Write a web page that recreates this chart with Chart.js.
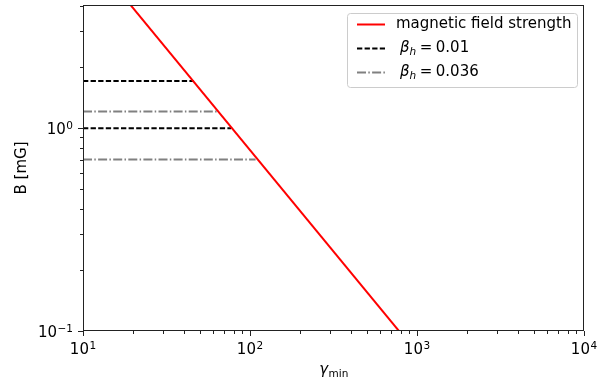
<!DOCTYPE html>
<html>
<head>
<meta charset="utf-8">
<script src="https://cdn.jsdelivr.net/npm/chart.js@4.4.0/dist/chart.umd.min.js"></script>
<style>
  html, body { margin: 0; padding: 0; background: #fff; }
  #wrap { width: 610px; height: 381px; }
</style>
</head>
<body>
<div id="wrap"><canvas id="fieldChart" width="610" height="381"></canvas></div>
<script>
// gamma_min range and field strength along the red line
const fieldGamma = [10, 1000];
const fieldB = [7.8, 0.078];

// horizontal reference levels (B in mG) and where each one stops (gamma_min)
const betaLowLevels = [1.71, 1.0];      // beta_h = 0.01
const betaLowEnds = [46, 77];
const betaHighLevels = [1.21, 0.70];    // beta_h = 0.036
const betaHighEnds = [64, 108];

// tick labels are 10^exponent
const xMajorTicks = [10, 100, 1000, 10000];
const xTickExps = ['1', '2', '3', '4'];
const yMajorTicks = [0.1, 1];
const yTickExps = ['\u22121', '0'];
const xMinorTicks = [20, 30, 40, 50, 60, 70, 80, 90, 200, 300, 400, 500, 600, 700, 800, 900,
  2000, 3000, 4000, 5000, 6000, 7000, 8000, 9000];
const yMinorTicks = [0.2, 0.3, 0.4, 0.5, 0.6, 0.7, 0.8, 0.9, 2, 3, 4];

const legendLabels = ['magnetic field strength', '0.01', '0.036'];

const FONT = '"DejaVu Sans", sans-serif';

function levelDataset(level, end, color, dash) {
    return {
        data: [{ x: 10, y: level }, { x: end, y: level }],
        borderColor: color,
        borderWidth: 2,
        borderDash: dash,
        pointRadius: 0,
        fill: false
    };
}

const datasets = [{
    label: legendLabels[0],
    data: fieldGamma.map((g, i) => ({ x: g, y: fieldB[i] })),
    borderColor: '#ff0000',
    borderWidth: 2,
    pointRadius: 0,
    fill: false
}];
betaLowLevels.forEach((lv, i) => datasets.push(levelDataset(lv, betaLowEnds[i], '#000000', [5.3, 2.3])));
betaHighLevels.forEach((lv, i) => datasets.push(levelDataset(lv, betaHighEnds[i], '#808080', [9, 2.3, 1.5, 2.3])));

function powerLabel(ctx, exp, x, baseY, align) {
    ctx.font = '15px ' + FONT;
    const wb = ctx.measureText('10').width;
    ctx.font = '10.5px ' + FONT;
    const we = ctx.measureText(exp).width;
    const total = wb + 0.5 + we;
    let start = align === 'center' ? x - total / 2 : x - total;
    ctx.font = '15px ' + FONT;
    ctx.fillText('10', start, baseY);
    ctx.font = '10.5px ' + FONT;
    ctx.fillText(exp, start + wb + 0.5, baseY - 5);
}

const extras = {
    id: 'extras',
    afterDraw(chart) {
        const ctx = chart.ctx;
        const a = chart.chartArea;
        const xs = chart.scales.x, ys = chart.scales.y;
        ctx.save();
        // frame
        ctx.strokeStyle = '#222';
        ctx.lineWidth = 1;
        ctx.strokeRect(Math.round(a.left) + 0.5, Math.round(a.top) + 0.5,
            Math.round(a.right - a.left) - 1, Math.round(a.bottom - a.top) - 1);
        // minor ticks
        ctx.beginPath();
        xMinorTicks.forEach(v => {
            const px = Math.round(xs.getPixelForValue(v)) + 0.5;
            ctx.moveTo(px, a.bottom);
            ctx.lineTo(px, a.bottom + 3);
        });
        yMinorTicks.forEach(v => {
            const py = Math.round(ys.getPixelForValue(v)) + 0.5;
            ctx.moveTo(a.left, py);
            ctx.lineTo(a.left - 3, py);
        });
        ctx.stroke();

        // major tick labels
        ctx.fillStyle = '#000';
        ctx.textBaseline = 'alphabetic';
        xMajorTicks.forEach((v, i) => {
            powerLabel(ctx, xTickExps[i], xs.getPixelForValue(v), a.bottom + 22.5, 'center');
        });
        yMajorTicks.forEach((v, i) => {
            powerLabel(ctx, yTickExps[i], a.left - 10, ys.getPixelForValue(v) + 6, 'right');
        });

        // x axis title: gamma_min
        const cx = (a.left + a.right) / 2;
        ctx.font = 'italic 15px ' + FONT;
        const wg = ctx.measureText('\u03B3').width;
        ctx.font = '10.5px ' + FONT;
        const wm = ctx.measureText('min').width;
        let tx = cx - (wg + wm) / 2;
        ctx.font = 'italic 15px ' + FONT;
        ctx.fillText('\u03B3', tx, 374);
        ctx.font = '10.5px ' + FONT;
        ctx.fillText('min', tx + wg + 0.5, 377);

        // legend
        const lx = 347, ly = 13, lw = 230, lh = 74;
        ctx.beginPath();
        ctx.roundRect(lx + 0.5, ly + 0.5, lw, lh, 3);
        ctx.fillStyle = 'rgba(255,255,255,0.8)';
        ctx.fill();
        ctx.strokeStyle = '#cccccc';
        ctx.stroke();

        const rows = [24.5, 48.5, 72.5];
        const styles = [
            { c: '#ff0000', d: [] },
            { c: '#000000', d: [5.3, 2.3] },
            { c: '#808080', d: [9, 2.3, 1.5, 2.3] }
        ];
        rows.forEach((ry, i) => {
            ctx.beginPath();
            ctx.setLineDash(styles[i].d);
            ctx.strokeStyle = styles[i].c;
            ctx.lineWidth = 2;
            ctx.moveTo(357, ry);
            ctx.lineTo(385, ry);
            ctx.stroke();
        });
        ctx.setLineDash([]);
        ctx.fillStyle = '#000';
        ctx.textBaseline = 'middle';
        ctx.font = '15px ' + FONT;
        ctx.fillText(legendLabels[0], 396, rows[0]);
        [1, 2].forEach(i => {
            let x = 400;
            const y = rows[i];
            ctx.font = 'italic 15px ' + FONT;
            ctx.fillText('\u03B2', x, y);
            x += ctx.measureText('\u03B2').width;
            ctx.font = 'italic 10.5px ' + FONT;
            ctx.fillText('h', x, y + 4);
            x += ctx.measureText('h').width + 3.5;
            ctx.font = '15px ' + FONT;
            ctx.fillText('=', x, y);
            x += ctx.measureText('=').width + 3.5;
            ctx.fillText(legendLabels[i], x, y);
        });
        ctx.restore();
    }
};

new Chart(document.getElementById('fieldChart').getContext('2d'), {
    type: 'line',
    data: { datasets: datasets },
    options: {
        responsive: false,
        animation: false,
        layout: { padding: { left: 0, right: 26, top: 5, bottom: 0 } },
        plugins: {
            legend: { display: false },
            tooltip: { enabled: false }
        },
        scales: {
            x: {
                type: 'logarithmic',
                min: 10,
                max: 10000,
                afterBuildTicks: s => { s.ticks = xMajorTicks.map(v => ({ value: v })); },
                afterFit: s => { s.height = 50; s.paddingLeft = 0; s.paddingRight = 0; },
                ticks: { display: false },
                grid: { drawOnChartArea: false, tickLength: 5, color: '#222' },
                border: { display: false }
            },
            y: {
                type: 'logarithmic',
                min: 0.1,
                max: 4.05,
                afterBuildTicks: s => { s.ticks = yMajorTicks.map(v => ({ value: v })); },
                afterFit: s => { s.width = 83; s.paddingTop = 0; s.paddingBottom = 0; },
                ticks: { display: false },
                grid: { drawOnChartArea: false, tickLength: 5, color: '#222' },
                border: { display: false },
                title: {
                    display: true,
                    text: 'B [mG]',
                    color: '#000',
                    font: { family: FONT, size: 15 },
                    padding: { top: 13, bottom: 0 }
                }
            }
        }
    },
    plugins: [extras]
});
</script>
</body>
</html>
